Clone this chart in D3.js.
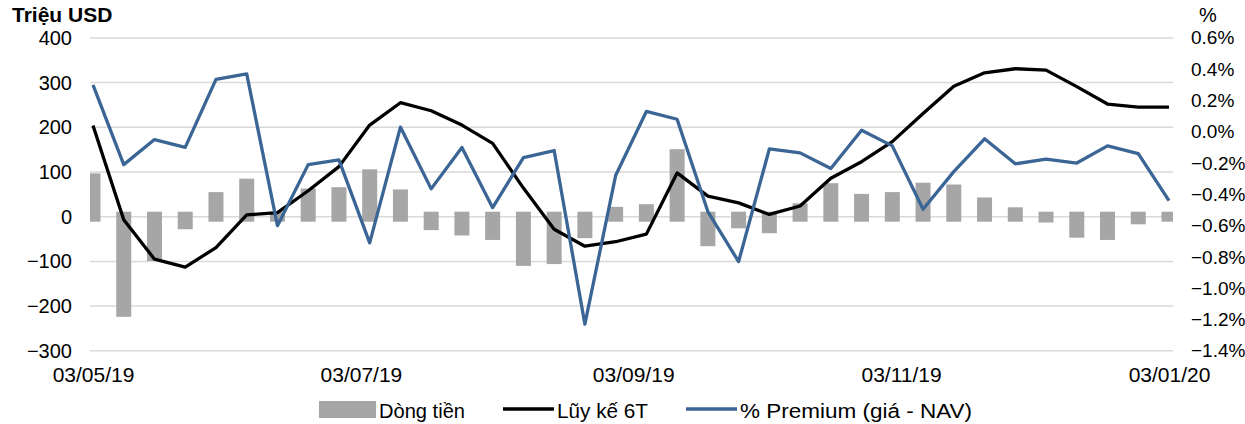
<!DOCTYPE html>
<html>
<head>
<meta charset="utf-8">
<script src="https://cdn.jsdelivr.net/npm/d3@7"></script>
<style>
  body { margin: 0; background: #fff; }
  svg text { font-family: "Liberation Sans", Arial, sans-serif; fill: #000; }
</style>
</head>
<body>
<svg id="chart" width="1245" height="424"></svg>
<script>
// weekly dates
var dates = ["2019-05-03","2019-05-10","2019-05-17","2019-05-24","2019-05-31",
  "2019-06-07","2019-06-14","2019-06-21","2019-06-28",
  "2019-07-05","2019-07-12","2019-07-19","2019-07-26",
  "2019-08-02","2019-08-09","2019-08-16","2019-08-23","2019-08-30",
  "2019-09-06","2019-09-13","2019-09-20","2019-09-27",
  "2019-10-04","2019-10-11","2019-10-18","2019-10-25",
  "2019-11-01","2019-11-08","2019-11-15","2019-11-22","2019-11-29",
  "2019-12-06","2019-12-13","2019-12-20","2019-12-27",
  "2020-01-03"];

// Dòng tiền (Triệu USD)
var flows = [97, -224, -99, -28, 55, 85, 6, 63, 66, 106,
  61, -30, -42, -52, -110, -106, -48, 22, 28, 151,
  -66, -26, -37, 30, 75, 51, 55, 76, 72, 43,
  21, -13, -47, -52, -17, -8];

// Lũy kế 6T (Triệu USD)
var cumul = [204, -7, -95, -113, -69, 4, 9, 58, 112, 205,
  255, 237, 205, 164, 64, -28, -66, -56, -39, 98,
  46, 31, 5, 24, 86, 123, 168, 231, 292, 322,
  331, 328, 291, 252, 245, 245];

// % Premium (giá - NAV)
var premium = [0.30, -0.21, -0.05, -0.10, 0.335, 0.37, -0.60, -0.21, -0.18, -0.71,
  0.03, -0.365, -0.10, -0.485, -0.165, -0.12, -1.23, -0.28, 0.13, 0.08,
  -0.51, -0.83, -0.11, -0.135, -0.235, 0.01, -0.09, -0.495, -0.255, -0.045,
  -0.205, -0.175, -0.20, -0.09, -0.14, -0.44];

var leftTicks = [-300, -200, -100, 0, 100, 200, 300, 400];
var rightTicks = [-1.4, -1.2, -1.0, -0.8, -0.6, -0.4, -0.2, 0.0, 0.2, 0.4, 0.6];
var dateTicks = ["2019-05-03", "2019-07-03", "2019-09-03", "2019-11-03", "2020-01-03"];

var parse = d3.timeParse("%Y-%m-%d");
var svg = d3.select("#chart");

var plotLeft = 90, plotRight = 1173, plotTop = 37.9, plotBottom = 350.8;

var x = d3.scaleTime()
  .domain([parse(dates[0]), parse(dates[dates.length - 1])])
  .range([93, 1169]);
var yL = d3.scaleLinear().domain([-300, 400]).range([plotBottom, plotTop]);
var yR = d3.scaleLinear().domain([-1.4, 0.6]).range([plotBottom, plotTop]);

svg.append("defs").append("clipPath").attr("id", "plotclip")
  .append("rect")
  .attr("x", plotLeft).attr("y", 0)
  .attr("width", plotRight - plotLeft).attr("height", 424);

// gridlines
svg.append("g")
  .selectAll("line")
  .data(leftTicks)
  .enter().append("line")
  .attr("x1", plotLeft).attr("x2", plotRight)
  .attr("y1", function(d) { return yL(d); })
  .attr("y2", function(d) { return yL(d); })
  .style("stroke", "#d9d9d9")
  .style("stroke-width", 1.5);

// bars (small band around zero like the source)
var barW = 15;
var y0 = yL(0);
svg.append("g")
  .attr("clip-path", "url(#plotclip)")
  .selectAll("rect")
  .data(flows)
  .enter().append("rect")
  .attr("x", function(d, i) { return x(parse(dates[i])) - barW / 2; })
  .attr("y", function(d) { return Math.min(yL(d), y0 - 5); })
  .attr("width", barW)
  .attr("height", function(d) { return Math.max(yL(d), y0 + 5) - Math.min(yL(d), y0 - 5); })
  .style("fill", "#a6a6a6");

// lines
var cumLine = d3.line()
  .x(function(d, i) { return x(parse(dates[i])); })
  .y(function(d) { return yL(d); });
var premLine = d3.line()
  .x(function(d, i) { return x(parse(dates[i])); })
  .y(function(d) { return yR(d); });

svg.append("path")
  .datum(cumul)
  .attr("d", cumLine)
  .style("fill", "none")
  .style("stroke", "#000")
  .style("stroke-width", 3.3)
  .style("stroke-linejoin", "round");

svg.append("path")
  .datum(premium)
  .attr("d", premLine)
  .style("fill", "none")
  .style("stroke", "#3a6595")
  .style("stroke-width", 3.3)
  .style("stroke-linejoin", "round");

// left axis
var leftAxis = svg.append("g")
  .attr("transform", "translate(" + plotLeft + ",0)")
  .call(d3.axisLeft(yL).tickValues(leftTicks).tickSize(0).tickPadding(18).tickFormat(d3.format("d")));
leftAxis.select(".domain").remove();
leftAxis.selectAll("text").style("font-size", "20px");

// right axis
var rightAxis = svg.append("g")
  .attr("transform", "translate(" + plotRight + ",0)")
  .call(d3.axisRight(yR).tickValues(rightTicks).tickSize(0).tickPadding(18)
    .tickFormat(function(d) { return d3.format(".1f")(d) + "%"; }));
rightAxis.select(".domain").remove();
rightAxis.selectAll("text").style("font-size", "19px");

// date axis
var bottomAxis = svg.append("g")
  .attr("transform", "translate(0," + plotBottom + ")")
  .call(d3.axisBottom(x).tickValues(dateTicks.map(parse)).tickSize(0).tickPadding(16)
    .tickFormat(d3.timeFormat("%d/%m/%y")));
bottomAxis.select(".domain").remove();
bottomAxis.selectAll("text").style("font-size", "21px");

// axis titles
svg.append("text")
  .attr("x", 12).attr("y", 21.5)
  .style("font-size", "21px").style("font-weight", "bold")
  .text("Triệu USD");
svg.append("text")
  .attr("x", 1208).attr("y", 22)
  .attr("text-anchor", "middle")
  .style("font-size", "20px")
  .text("%");

// legend
var legend = svg.append("g");
legend.append("rect")
  .attr("x", 319).attr("y", 401).attr("width", 57).attr("height", 17)
  .style("fill", "#a6a6a6");
legend.append("text").attr("x", 379).attr("y", 418)
  .attr("textLength", 86).attr("lengthAdjust", "spacingAndGlyphs")
  .style("font-size", "20px").text("Dòng tiền");
legend.append("line")
  .attr("x1", 503).attr("x2", 554).attr("y1", 409).attr("y2", 409)
  .style("stroke", "#000").style("stroke-width", 3.5);
legend.append("text").attr("x", 557).attr("y", 418)
  .attr("textLength", 91).attr("lengthAdjust", "spacingAndGlyphs")
  .style("font-size", "20px").text("Lũy kế 6T");
legend.append("line")
  .attr("x1", 686).attr("x2", 737).attr("y1", 409).attr("y2", 409)
  .style("stroke", "#3a6595").style("stroke-width", 3.5);
legend.append("text").attr("x", 740).attr("y", 418)
  .attr("textLength", 232).attr("lengthAdjust", "spacingAndGlyphs")
  .style("font-size", "20px").text("% Premium (giá - NAV)");
</script>
</body>
</html>
